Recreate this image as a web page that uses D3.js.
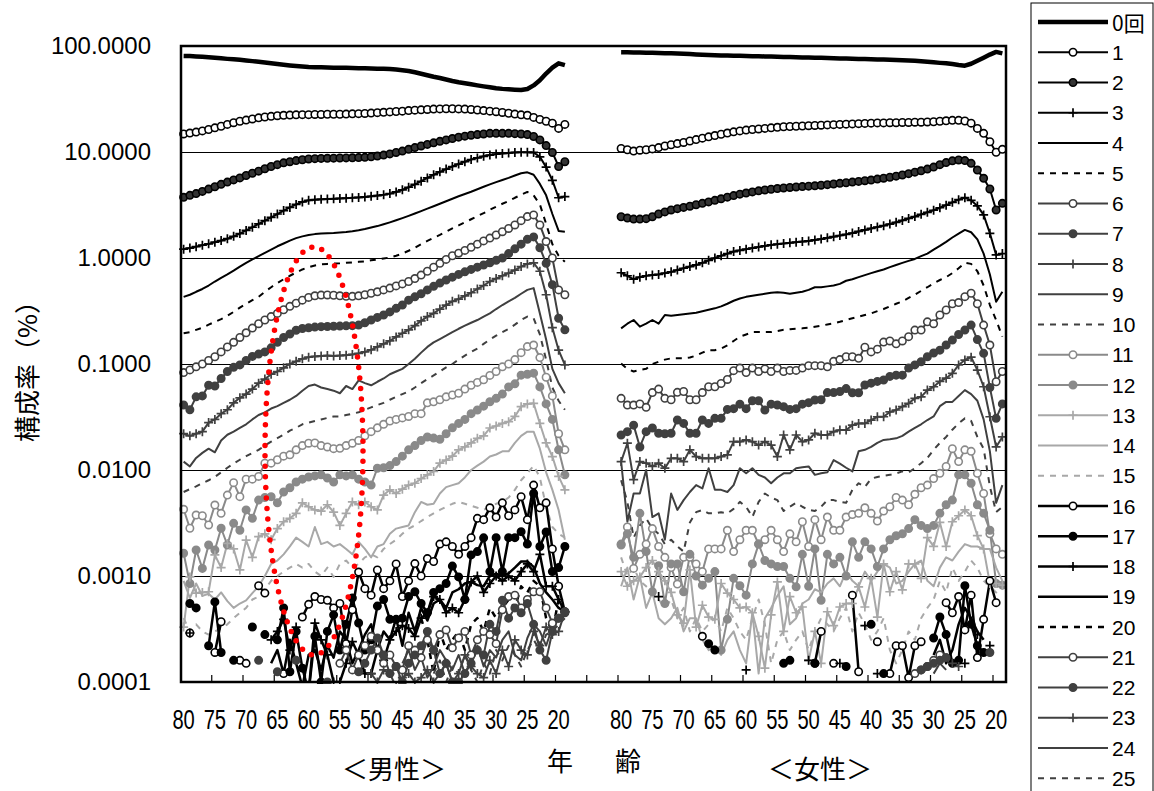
<!DOCTYPE html>
<html><head><meta charset="utf-8">
<script src="https://cdn.jsdelivr.net/npm/d3@7"></script>
<style>body{margin:0;background:#fff}svg{display:block}</style>
</head><body>
<svg id="c" width="1154" height="791"></svg>
<script>
// ---------- categories / labels ----------
const ages = d3.range(80, 18, -1);               // 80 .. 19
const xTickAges = [80,75,70,65,60,55,50,45,40,35,30,25,20];
const yTicks = [100,10,1,0.1,0.01,0.001,0.0001];
const seriesLabels = ["0回","1","2","3","4","5","6","7","8","9","10","11","12","13","14","15","16","17","18","19","20","21","22","23","24","25"];

// ---------- male (ages 80 -> 19) ----------
const M0=[80.5,80.3,79.8,79,78.2,77.3,76.5,75.6,74.8,74,73,72,71,70,68.8,67.6,66.4,65.4,64.6,64,63.4,63.1,62.9,62.7,62.5,62.4,62.2,62,61.8,61.6,61.4,61.1,60.9,60.6,60,59.1,58,56.5,54.8,53,51.3,49.9,48.3,46.8,45.5,44.5,43.5,42.5,41.6,40.8,40,39.4,39,38.7,38.4,39.3,42.5,47.5,55,62.5,68.7,66];
const M1=[14.8,15.1,15.4,15.8,16.3,16.9,17.5,18.2,18.9,19.5,20.0,20.5,21.0,21.4,21.7,22.0,22.2,22.3,22.4,22.5,22.5,22.6,22.6,22.7,22.7,22.7,22.8,22.9,23.0,23.1,23.3,23.5,23.7,23.9,24.1,24.3,24.6,24.8,25.0,25.2,25.4,25.5,25.6,25.6,25.5,25.4,25.2,24.9,24.6,24.3,24.0,23.6,23.2,22.8,22.4,22.2,21.2,20.3,19.5,18.7,16.7,18.2];
const M2=[3.74,3.9,4.05,4.25,4.47,4.7,4.95,5.2,5.45,5.7,6.0,6.3,6.6,6.95,7.3,7.6,7.9,8.1,8.3,8.45,8.6,8.65,8.7,8.72,8.75,8.78,8.8,8.82,8.85,8.9,9.0,9.15,9.35,9.6,9.9,10.2,10.6,11.0,11.4,11.8,12.2,12.6,13.0,13.4,13.8,14.1,14.4,14.6,14.8,15.0,15.0,15.0,15.0,14.9,14.8,14.6,14.0,13.0,11.5,9.9,7.3,8.1];
const M3=[1.21,1.24,1.28,1.32,1.36,1.41,1.46,1.52,1.6,1.7,1.82,1.95,2.1,2.25,2.42,2.6,2.8,3.0,3.2,3.38,3.5,3.55,3.58,3.6,3.62,3.65,3.67,3.7,3.73,3.77,3.82,3.88,3.95,4.05,4.2,4.4,4.65,4.95,5.3,5.7,6.1,6.5,6.9,7.3,7.7,8.1,8.5,8.8,9.1,9.35,9.55,9.7,9.8,9.9,9.95,9.94,9.9,9.0,7.2,5.4,3.7,3.8];
const M4=[0.43,0.45,0.48,0.51,0.55,0.6,0.65,0.7,0.76,0.83,0.9,0.97,1.04,1.12,1.2,1.29,1.37,1.46,1.54,1.6,1.65,1.68,1.7,1.71,1.72,1.74,1.76,1.79,1.83,1.88,1.94,2.0,2.08,2.17,2.27,2.38,2.5,2.63,2.77,2.92,3.08,3.25,3.43,3.62,3.82,4.02,4.22,4.45,4.7,4.95,5.2,5.45,5.7,6.0,6.3,6.43,6.1,5.0,3.9,2.6,1.8,1.77];
const M5=[0.195,0.2,0.21,0.22,0.235,0.25,0.265,0.285,0.31,0.34,0.37,0.4,0.43,0.48,0.53,0.58,0.63,0.68,0.73,0.78,0.82,0.85,0.87,0.88,0.885,0.89,0.9,0.91,0.92,0.93,0.95,0.97,0.99,1.01,1.05,1.1,1.17,1.25,1.35,1.45,1.55,1.65,1.77,1.9,2.03,2.17,2.32,2.48,2.65,2.85,3.05,3.25,3.45,3.7,3.95,4.2,3.9,3.2,2.1,1.35,1.05,0.92];
const M6=[0.083,0.088,0.094,0.1,0.108,0.117,0.13,0.145,0.16,0.178,0.197,0.218,0.24,0.26,0.28,0.3,0.325,0.35,0.375,0.4,0.425,0.44,0.447,0.448,0.445,0.44,0.435,0.435,0.44,0.45,0.465,0.48,0.5,0.52,0.545,0.57,0.6,0.64,0.69,0.75,0.82,0.89,0.97,1.05,1.11,1.18,1.26,1.35,1.45,1.54,1.65,1.77,1.9,2.05,2.25,2.46,2.55,2.05,1.43,1.0,0.5,0.45];
const M7=[0.041,0.037,0.049,0.05,0.063,0.062,0.073,0.085,0.093,0.098,0.108,0.118,0.124,0.13,0.142,0.16,0.178,0.192,0.208,0.216,0.22,0.223,0.225,0.226,0.227,0.228,0.229,0.23,0.233,0.245,0.26,0.275,0.29,0.31,0.335,0.36,0.4,0.43,0.46,0.5,0.54,0.58,0.62,0.66,0.7,0.74,0.78,0.82,0.86,0.9,0.95,1.0,1.1,1.22,1.35,1.5,1.58,1.25,0.89,0.56,0.27,0.21];
const M8=[0.022,0.021,0.022,0.023,0.028,0.03,0.034,0.037,0.043,0.048,0.052,0.058,0.066,0.072,0.08,0.085,0.092,0.1,0.106,0.112,0.116,0.118,0.119,0.12,0.119,0.12,0.121,0.123,0.126,0.13,0.136,0.145,0.155,0.165,0.18,0.195,0.21,0.23,0.255,0.28,0.3,0.33,0.36,0.39,0.41,0.44,0.47,0.51,0.55,0.6,0.64,0.68,0.72,0.77,0.83,0.88,0.9,0.75,0.45,0.22,0.135,0.098];
const M9=[0.012,0.0108,0.013,0.0145,0.0159,0.0147,0.019,0.0215,0.023,0.025,0.027,0.03,0.033,0.035,0.038,0.04,0.043,0.046,0.05,0.056,0.062,0.064,0.06,0.058,0.056,0.053,0.062,0.058,0.07,0.066,0.063,0.068,0.073,0.08,0.085,0.09,0.1,0.112,0.128,0.145,0.16,0.172,0.185,0.2,0.215,0.23,0.245,0.26,0.28,0.3,0.33,0.36,0.39,0.42,0.46,0.5,0.52,0.3,0.17,0.09,0.066,0.053];
const M10=[0.0062,0.0066,0.007,0.0075,0.008,0.0086,0.0095,0.0105,0.0115,0.0125,0.0135,0.0145,0.0155,0.017,0.0185,0.02,0.0215,0.0235,0.025,0.027,0.028,0.029,0.03,0.031,0.032,0.032,0.033,0.034,0.035,0.037,0.039,0.041,0.043,0.046,0.049,0.052,0.055,0.06,0.066,0.072,0.078,0.085,0.093,0.1,0.11,0.12,0.13,0.14,0.155,0.17,0.185,0.2,0.215,0.235,0.26,0.28,0.27,0.19,0.11,0.06,0.045,0.037];
const M11=[0.00426,0.00282,0.00376,0.0037,0.00303,0.00467,0.0039,0.0058,0.0076,0.0056,0.0082,0.0082,0.0087,0.0116,0.0116,0.0125,0.0135,0.0139,0.0155,0.017,0.0179,0.018,0.017,0.0165,0.0159,0.016,0.017,0.0179,0.019,0.021,0.023,0.025,0.027,0.029,0.03,0.031,0.032,0.034,0.034,0.043,0.044,0.046,0.049,0.051,0.053,0.058,0.063,0.067,0.071,0.078,0.085,0.094,0.1,0.11,0.128,0.146,0.151,0.115,0.075,0.05,0.022,0.0155];
const M12=[0.00164,0.00085,0.00176,0.00118,0.00196,0.00176,0.00282,0.00196,0.00314,0.0027,0.0042,0.0035,0.0052,0.0055,0.0056,0.0049,0.0062,0.0068,0.0077,0.0082,0.0086,0.0088,0.009,0.0084,0.0077,0.009,0.0088,0.009,0.0082,0.0077,0.0072,0.0104,0.0105,0.011,0.012,0.0135,0.0155,0.017,0.019,0.0205,0.02,0.0195,0.022,0.025,0.0275,0.03,0.034,0.0368,0.04,0.044,0.0474,0.052,0.0608,0.065,0.0785,0.08,0.082,0.0608,0.042,0.03,0.0155,0.009];
const M13=[0.00033,0.00098,0.00069,0.0007,0.00071,0.00158,0.0012,0.00203,0.0018,0.00114,0.00218,0.0015,0.00235,0.0025,0.0022,0.0028,0.00325,0.0035,0.0039,0.0049,0.0045,0.0042,0.0041,0.0047,0.004,0.003,0.0039,0.005,0.0047,0.005,0.0045,0.0042,0.0058,0.0065,0.006,0.0066,0.0072,0.0075,0.0083,0.009,0.0097,0.0116,0.0124,0.0135,0.0155,0.0165,0.018,0.0199,0.021,0.0249,0.026,0.0275,0.0286,0.032,0.0396,0.042,0.0426,0.0275,0.018,0.0134,0.0087,0.0065];
const M14=[0.0009,0.00062,0.00085,0.00065,0.00068,0.0006,0.0007,0.00058,0.0005,0.00055,0.00059,0.00069,0.0008,0.001,0.0013,0.0014,0.0016,0.0019,0.0023,0.0021,0.0019,0.0029,0.002,0.0021,0.0019,0.002,0.0018,0.0016,0.0021,0.0018,0.0015,0.0019,0.002,0.0025,0.0028,0.0029,0.003,0.004,0.005,0.0047,0.0048,0.006,0.0069,0.0072,0.0075,0.0085,0.01,0.011,0.012,0.0134,0.014,0.015,0.015,0.018,0.021,0.023,0.023,0.0159,0.0095,0.0065,0.0042,0.0022];
const M15=[0.0004,0.0003,0.00035,0.0003,0.00028,0.0003,0.00032,0.00035,0.0004,0.00045,0.0005,0.0006,0.00064,0.00075,0.0009,0.001,0.0011,0.0012,0.0013,0.0012,0.0013,0.0011,0.001,0.0012,0.00098,0.0013,0.0014,0.0012,0.0013,0.0015,0.0016,0.0015,0.0018,0.002,0.0022,0.0025,0.0028,0.003,0.0033,0.0036,0.0039,0.0042,0.0045,0.0048,0.005,0.0048,0.0046,0.0044,0.0042,0.0045,0.0048,0.005,0.0055,0.0065,0.008,0.0093,0.011,0.0085,0.0045,0.0029,0.0025,0.0023];
// sparse series: [age, value]
const M16=[[79,0.00029],[75,0.00019],[74,0.00037],[71,0.00016],[70,0.00015],[68,0.00081],[67,0.00069],[64,0.00012],[61,0.00041],[60,0.00054],[59,0.00064],[58,0.0006],[57,0.00059],[56,0.0005],[55,0.00055],[54,0.00023],[53,0.00048],[52,0.00109],[51,0.00076],[50,0.00066],[49,0.00114],[48,0.00076],[47,0.0009],[46,0.0013],[45,0.00064],[44,0.0009],[43,0.00131],[42,0.001],[41,0.00146],[40,0.00137],[39,0.002],[38,0.0021],[37,0.0019],[36,0.0016],[35,0.0019],[34,0.0023],[33,0.0035],[32,0.0034],[31,0.0044],[30,0.0036],[29,0.0049],[28,0.0037],[27,0.0042],[26,0.0056],[25,0.0034],[24,0.0072],[23,0.0044],[22,0.0049],[21,0.0018],[20,0.0008],[19,0.00046]];
const M17=[[79,0.00055],[78,0.0005],[76,0.00022],[75,0.00057],[74,0.00019],[72,0.00016],[69,0.00033],[67,0.00028],[65,0.00025],[64,0.0005],[63,0.000125],[62,0.0003],[61,0.000135],[60,0.00008],[59,0.00027],[58,0.0001],[57,0.0003],[56,0.00043],[55,0.0002],[54,0.00035],[53,0.00062],[52,0.00036],[51,0.0002],[50,0.00025],[49,0.00052],[48,0.0006],[47,0.00039],[46,0.00039],[45,0.0004],[44,0.00064],[43,0.00071],[42,0.00055],[41,0.00045],[40,0.0007],[39,0.00076],[38,0.00085],[37,0.00124],[36,0.00098],[35,0.0006],[34,0.00158],[33,0.0017],[32,0.00229],[31,0.0011],[30,0.0023],[29,0.0011],[28,0.0023],[27,0.0023],[26,0.00262],[25,0.002],[24,0.006],[23,0.0019],[22,0.0026],[21,0.0011],[20,0.0012],[19,0.0019]];
const M18=[[79,0.00029],[66,0.00025],[65,0.0003],[64,0.00039],[63,0.0002],[62,0.00033],[60,0.00008],[59,0.00036],[58,0.00025],[57,0.00018],[56,0.0001],[55,0.0001],[54,0.00015],[53,0.00024],[52,0.00018],[51,0.00012],[50,0.00012],[49,0.0002],[48,0.00016],[47,0.00025],[46,0.0003],[45,0.00034],[44,0.00032],[43,0.00027],[42,0.0004],[41,0.00045],[40,0.00064],[39,0.0006],[38,0.00045],[37,0.0005],[36,0.00045],[35,0.0006],[34,0.00088],[33,0.001],[32,0.0007],[31,0.00085],[30,0.001],[29,0.0009],[28,0.001],[27,0.0009],[26,0.0011],[25,0.0013],[24,0.0011],[23,0.0016],[22,0.0008],[21,0.0008],[20,0.0006],[19,0.00046]];
const M19=[[66,0.00015],[65,0.0002],[64,0.00012],[63,0.00025],[62,0.00015],[61,0.00009],[60,0.00018],[59,0.0002],[58,0.00013],[57,0.00022],[56,0.00017],[55,0.0003],[54,0.00025],[53,0.00015],[52,0.0002],[51,0.00028],[50,0.00035],[49,0.0002],[48,0.0003],[47,0.00025],[46,0.0004],[45,0.00022],[44,0.00045],[43,0.0003],[42,0.0005],[41,0.00038],[40,0.00055],[39,0.0006],[38,0.0005],[37,0.0007],[36,0.00075],[35,0.00085],[34,0.00088],[33,0.00082],[32,0.0008],[31,0.001],[30,0.00105],[29,0.001],[28,0.00106],[27,0.0012],[26,0.00137],[25,0.00137],[24,0.00122],[23,0.00085],[22,0.0007],[21,0.0006],[20,0.0005],[19,0.00046]];
const M20=[[42,0.0004],[41,0.00025],[40,0.00012],[39,0.0003],[38,0.0002],[37,0.00025],[36,0.0003],[35,0.0002],[34,0.00035],[33,0.0004],[32,0.0003],[31,0.0005],[30,0.0004],[29,0.0005],[28,0.0006],[27,0.0005],[26,0.0008],[25,0.0007],[24,0.0009],[23,0.0008],[22,0.0004],[21,0.0003],[20,0.0006],[19,0.00045]];
const M21=[[55,0.00015],[54,0.0002],[53,0.00013],[52,0.00018],[51,0.00022],[50,0.00027],[49,0.0002],[48,0.00015],[47,0.00018],[46,0.00014],[45,0.00013],[44,0.00022],[43,0.0002],[42,0.00017],[41,0.00025],[40,0.0002],[39,0.00028],[38,0.00031],[37,0.00021],[36,0.00026],[35,0.0003],[34,0.00018],[33,0.00025],[32,0.0003],[31,0.00028],[30,0.00023],[29,0.00048],[28,0.00064],[27,0.00066],[26,0.0005],[25,0.0006],[24,0.00071],[23,0.00071],[22,0.0005],[21,0.00036],[20,0.0004],[19,0.00046]];
const M22=[[68,0.00016],[65,0.000125],[62,0.00016],[57,0.0001],[52,0.000125],[51,0.00015],[50,0.0002],[49,0.00026],[48,0.00018],[47,0.00012],[46,0.00014],[45,0.0001],[44,0.00015],[43,0.00018],[42,0.00022],[41,0.0003],[40,0.0002],[39,0.00012],[38,0.00015],[37,0.0001],[36,0.0001],[35,0.00012],[34,0.00015],[33,0.0002],[32,0.00018],[31,0.00035],[30,0.0003],[29,0.00059],[28,0.0004],[27,0.0005],[26,0.00045],[25,0.00055],[24,0.00035],[23,0.0002],[22,0.00016],[21,0.0003],[20,0.0004],[19,0.00045]];
const M23=[[50,0.00012],[49,0.0001],[48,0.00013],[47,0.00012],[46,0.00009],[45,0.00011],[44,0.00012],[43,0.0001],[42,0.00011],[41,0.00013],[40,0.0001],[39,0.00012],[38,0.00015],[37,0.0001],[36,0.00012],[35,0.00018],[34,0.00014],[33,0.00012],[32,0.00011],[31,0.00016],[30,0.00012],[29,0.0002],[28,0.00014],[27,0.00025],[26,0.0002],[25,0.00018],[24,0.0003],[23,0.00022],[22,0.00033],[21,0.00028],[20,0.0003],[19,0.00046]];
const M24=[[45,0.00015],[44,0.0002],[43,0.00013],[42,0.00017],[41,0.00011],[40,0.00014],[39,0.0002],[38,0.00016],[37,0.00013],[36,0.00018],[35,0.00012],[34,0.00016],[33,0.00022],[32,0.00014],[31,0.0002],[30,0.00017],[29,0.00025],[28,0.0003],[27,0.00018],[26,0.00016],[25,0.00026],[24,0.00035],[23,0.0003],[22,0.00022],[21,0.00033],[20,0.0004],[19,0.00045]];
const M25=[[40,0.00012],[39,0.00016],[38,0.0001],[37,0.00014],[36,0.00012],[35,0.00018],[34,0.00013],[33,0.0001],[32,0.00015],[31,0.00012],[30,0.0002],[29,0.00016],[28,0.00022],[27,0.00018],[26,0.00014],[25,0.0002],[24,0.00025],[23,0.0002],[22,0.00028],[21,0.0003],[20,0.00035],[19,0.0004]];

// ---------- female (ages 80 -> 19) ----------
const F0=[87.3,87.2,87,86.8,86.5,86.2,85.9,85.6,85.3,85,84.6,84,83.3,82.7,82.2,81.8,81.5,81.2,81,80.7,80.5,80.2,80,79.7,79.4,79.1,78.8,78.6,78.3,78.1,77.8,77.6,77.3,77,76.7,76.4,76.1,75.8,75.5,75.2,75,74.7,74.4,74.1,73.8,73.4,73,72.4,71.7,71,70.1,69.3,68.7,67.5,66.2,65.2,68,72.5,77.5,83,88,85.3];
const F1=[10.8,10.5,10.2,10.4,10.5,10.7,11.0,11.4,11.7,12.0,12.3,12.7,13.1,13.5,13.9,14.3,14.7,15.1,15.5,15.8,16.1,16.3,16.5,16.7,16.9,17.1,17.3,17.4,17.5,17.6,17.7,17.8,17.9,18.0,18.1,18.2,18.3,18.4,18.5,18.6,18.7,18.8,18.8,18.9,18.9,19.0,19.0,19.1,19.1,19.2,19.3,19.5,19.7,19.9,19.9,19.6,18.7,16.7,15.0,12.5,9.95,10.6];
const F2=[2.45,2.38,2.33,2.33,2.35,2.45,2.6,2.72,2.84,2.92,3.0,3.08,3.18,3.28,3.38,3.5,3.62,3.75,3.88,4.0,4.1,4.2,4.3,4.38,4.45,4.52,4.58,4.63,4.68,4.72,4.76,4.8,4.86,4.92,4.99,5.06,5.13,5.2,5.28,5.36,5.44,5.55,5.66,5.78,5.92,6.07,6.25,6.45,6.65,6.9,7.2,7.6,7.95,8.25,8.41,8.3,7.82,6.76,5.65,4.48,2.84,3.28];
const F3=[0.726,0.68,0.63,0.66,0.68,0.69,0.7,0.72,0.74,0.77,0.8,0.83,0.86,0.9,0.95,1.0,1.05,1.1,1.15,1.18,1.21,1.24,1.27,1.3,1.33,1.35,1.37,1.39,1.41,1.43,1.45,1.48,1.51,1.55,1.59,1.63,1.67,1.72,1.78,1.84,1.9,1.96,2.02,2.09,2.17,2.26,2.36,2.46,2.58,2.7,2.82,2.98,3.15,3.35,3.55,3.71,3.5,3.1,2.55,1.71,1.07,1.1];
const F4=[0.217,0.24,0.26,0.225,0.24,0.26,0.24,0.29,0.285,0.29,0.295,0.3,0.305,0.315,0.325,0.335,0.35,0.37,0.395,0.415,0.43,0.44,0.45,0.46,0.47,0.475,0.47,0.46,0.47,0.48,0.5,0.53,0.53,0.54,0.55,0.57,0.61,0.63,0.66,0.69,0.72,0.75,0.78,0.82,0.86,0.9,0.94,0.98,1.04,1.1,1.2,1.3,1.42,1.56,1.7,1.84,1.75,1.5,1.1,0.7,0.387,0.48];
const F5=[0.101,0.09,0.085,0.088,0.09,0.1,0.105,0.11,0.113,0.113,0.113,0.115,0.12,0.128,0.135,0.135,0.14,0.15,0.165,0.181,0.19,0.2,0.2,0.2,0.2,0.205,0.21,0.213,0.215,0.217,0.22,0.225,0.23,0.236,0.242,0.25,0.26,0.27,0.28,0.29,0.3,0.315,0.33,0.35,0.37,0.39,0.42,0.45,0.49,0.53,0.577,0.62,0.66,0.72,0.8,0.9,0.88,0.75,0.55,0.36,0.26,0.181];
const F6=[0.0474,0.041,0.041,0.042,0.039,0.0537,0.058,0.0474,0.046,0.054,0.055,0.046,0.046,0.0537,0.061,0.061,0.0655,0.0715,0.0865,0.0915,0.083,0.0915,0.085,0.09,0.085,0.0915,0.085,0.087,0.087,0.0915,0.0965,0.0965,0.0965,0.094,0.106,0.11,0.117,0.117,0.113,0.144,0.13,0.138,0.161,0.165,0.155,0.165,0.181,0.209,0.209,0.25,0.24,0.29,0.323,0.37,0.38,0.432,0.465,0.37,0.233,0.151,0.068,0.085];
const F7=[0.0214,0.023,0.0265,0.0165,0.023,0.0249,0.0222,0.022,0.0222,0.0296,0.0275,0.0222,0.0222,0.0296,0.0275,0.0307,0.0307,0.0373,0.0379,0.0418,0.0379,0.045,0.045,0.0368,0.0418,0.041,0.0396,0.0373,0.0379,0.0418,0.0432,0.0458,0.046,0.0537,0.0537,0.055,0.0586,0.0535,0.0535,0.0633,0.066,0.0685,0.0706,0.0764,0.0785,0.0785,0.0915,0.098,0.105,0.117,0.127,0.135,0.151,0.168,0.19,0.209,0.233,0.17,0.126,0.06,0.0307,0.042];
const F8=[0.012,0.0179,0.0081,0.012,0.0116,0.0108,0.0116,0.0104,0.0129,0.0129,0.012,0.0155,0.0134,0.0129,0.0129,0.0129,0.0134,0.0139,0.0185,0.0185,0.0192,0.0185,0.0172,0.0185,0.0172,0.0134,0.0214,0.0155,0.0214,0.0185,0.0192,0.0222,0.0214,0.0214,0.023,0.0238,0.0238,0.0265,0.0275,0.0275,0.0296,0.0318,0.0318,0.0353,0.0368,0.0396,0.0426,0.0474,0.049,0.0567,0.061,0.0685,0.0735,0.0817,0.098,0.109,0.116,0.0877,0.061,0.0318,0.0165,0.0205];
const F9=[0.012,0.00325,0.006,0.006,0.01,0.0036,0.0039,0.0022,0.006,0.0042,0.0052,0.0062,0.0072,0.0067,0.0104,0.0065,0.0065,0.0062,0.0072,0.0104,0.0093,0.0104,0.009,0.0085,0.0075,0.0085,0.0093,0.0093,0.0104,0.0106,0.0108,0.009,0.0093,0.0095,0.0124,0.0115,0.0105,0.0097,0.015,0.0155,0.0165,0.018,0.0192,0.0195,0.0199,0.021,0.023,0.025,0.027,0.0296,0.032,0.04,0.0439,0.0439,0.05,0.0567,0.052,0.045,0.03,0.015,0.0049,0.0072];
const F10=[0.008,0.005,0.0023,0.003,0.0035,0.0028,0.0025,0.002,0.0022,0.0019,0.0017,0.0032,0.004,0.0042,0.0039,0.0039,0.004,0.0039,0.0043,0.005,0.0045,0.0036,0.005,0.006,0.0055,0.0052,0.0041,0.0045,0.0049,0.0045,0.0042,0.0041,0.0045,0.0052,0.0052,0.005,0.0049,0.0065,0.0075,0.0069,0.0083,0.0086,0.0088,0.009,0.0093,0.0097,0.0095,0.0104,0.0116,0.013,0.0155,0.018,0.0205,0.024,0.0275,0.0307,0.029,0.0205,0.0159,0.007,0.004,0.0045];
const F11=[0.002,0.0029,0.00118,0.0016,0.002,0.0028,0.0019,0.0015,0.0012,0.00084,0.0015,0.0015,0.0013,0.0011,0.0018,0.0018,0.0018,0.0027,0.0017,0.0022,0.0027,0.0027,0.002,0.0022,0.0027,0.0022,0.0017,0.0025,0.0021,0.00325,0.0019,0.0034,0.0022,0.0036,0.0027,0.0027,0.0036,0.0038,0.0039,0.0044,0.0039,0.0033,0.0041,0.0045,0.0055,0.0052,0.0047,0.0059,0.0068,0.0072,0.0083,0.0093,0.0108,0.0159,0.012,0.0155,0.015,0.0093,0.006,0.0025,0.0018,0.0016];
const F12=[0.00196,0.0025,0.0015,0.0039,0.0017,0.00071,0.00125,0.00055,0.0013,0.0013,0.00071,0.0016,0.001,0.00082,0.00095,0.0011,0.0002,0.00039,0.00095,0.00081,0.00066,0.0013,0.002,0.0014,0.0013,0.00123,0.00123,0.00095,0.00079,0.0016,0.0008,0.0018,0.00059,0.0016,0.0013,0.0015,0.001,0.0021,0.0015,0.0021,0.0018,0.00123,0.0018,0.0022,0.0024,0.0025,0.0028,0.0034,0.003,0.0028,0.003,0.0039,0.0047,0.0052,0.009,0.009,0.0075,0.0047,0.0039,0.0027,0.00085,0.00082];
const F13=[0.0011,0.0008,0.0009,0.00098,0.0012,0.0014,0.0011,0.0009,0.0007,0.00043,0.00036,0.00114,0.00033,0.00053,0.00041,0.00039,0.00085,0.00069,0.0006,0.0005,0.00051,0.00045,0.00027,0.000135,0.00043,0.00088,0.0003,0.00064,0.00045,0.00051,0.00016,0.0003,0.00015,0.00046,0.00034,0.00051,0.00055,0.00055,0.00079,0.00051,0.00095,0.00041,0.0013,0.00071,0.0011,0.00074,0.0013,0.0013,0.00095,0.0023,0.0019,0.0032,0.0019,0.00325,0.0037,0.0042,0.0037,0.0024,0.0018,0.00085,0.00085,0.00082];
const F14=[0.0008,0.0012,0.0006,0.001,0.0005,0.0007,0.0004,0.00035,0.0004,0.0005,0.0003,0.0004,0.0004,0.00025,0.0002,0.00022,0.00018,0.00025,0.0003,0.0002,0.00015,0.00045,0.00012,0.0004,0.0005,0.00065,0.0008,0.00035,0.0004,0.00055,0.0006,0.00075,0.0007,0.00085,0.00095,0.0008,0.0011,0.0009,0.0008,0.0011,0.0009,0.0011,0.0013,0.0012,0.00085,0.0009,0.0011,0.0013,0.0014,0.0009,0.0008,0.0012,0.0015,0.0014,0.0017,0.002,0.0019,0.0019,0.0018,0.0018,0.0012,0.0009];
const F15=[0.0015,0.001,0.0012,0.0009,0.0008,0.0007,0.0006,0.0005,0.0006,0.0004,0.0005,0.0003,0.0004,0.0003,0.00035,0.0004,0.0003,0.0005,0.0004,0.0003,0.00025,0.0004,0.0006,0.00035,0.00015,0.00025,0.0003,0.0002,0.00025,0.0003,0.0002,0.0003,0.0004,0.00035,0.0003,0.0004,0.0005,0.0003,0.00045,0.00035,0.00025,0.0003,0.0004,0.0002,0.00015,0.0002,0.0003,0.00025,0.0004,0.0005,0.0006,0.0009,0.0007,0.0012,0.0009,0.0011,0.0014,0.0012,0.0009,0.0008,0.0007,0.0008];
const F16=[[67,0.00027],[49,0.00015],[48,0.0003],[46,0.00015],[43,0.00066],[42,0.000125],[39,0.00024],[37,0.00012],[36,0.00022],[35,0.00022],[34,0.00011],[33,0.00022],[32,0.00024],[28,0.00056],[27,0.00045],[26,0.00064],[25,0.00031],[24,0.00066],[23,0.00017],[22,0.00039],[21,0.0009],[20,0.00056]];
const F17=[[66,0.00023],[65,0.0002],[54,0.00015],[53,0.00016],[49,0.00015],[44,0.00014],[40,0.00035],[38,0.00012],[30,0.00026],[29,0.00041],[28,0.00028],[27,0.00015],[26,0.00016],[25,0.00081],[24,0.00035],[23,0.00022],[22,0.00019]];
const F18=[[74,0.00064],[60,0.00013],[50,0.00016],[45,0.00015],[41,0.00034],[39,0.00012],[25,0.00015],[23,0.00028],[21,0.00022]];
const F19=[[30,0.00018],[29,0.00025],[28,0.00015],[27,0.0002],[26,0.00035],[25,0.0005],[24,0.0004],[23,0.0003],[22,0.00025]];
const F20=[];
const F21=[[33,0.00012],[32,0.00013],[31,0.00014],[30,0.00016],[29,0.00018]];
const F22=[[32,0.00013],[31,0.00014],[30,0.00015],[29,0.00016],[28,0.00017],[21,0.00019]];
const F23=[[27,0.00015],[26,0.00014]];
const F24=[[30,0.00012],[29,0.00015],[28,0.00013]];
const F25=[];

// ---------- styles ----------
const K='#000', D='#404040', G='#8a8a8a', L='#a8a8a8';
const styles=[
 {c:K,w:4.5},{c:K,w:2,m:'o',f:'#fff'},{c:K,w:2,m:'o',f:'#333'},{c:K,w:2,m:'+'},{c:K,w:2},{c:K,w:2,d:'6,6'},
 {c:D,w:2,m:'o',f:'#fff'},{c:D,w:2,m:'o',f:D},{c:D,w:2,m:'+'},{c:D,w:2},{c:D,w:2,d:'6,6'},
 {c:G,w:2,m:'o',f:'#fff'},{c:G,w:2,m:'o',f:G},{c:L,w:2,m:'+'},{c:L,w:2},{c:L,w:2,d:'6,6'},
 {c:K,w:2.5,m:'o',f:'#fff'},{c:K,w:2.5,m:'o',f:K},{c:K,w:2.5,m:'+'},{c:K,w:2.5},{c:K,w:2.5,d:'6,6'},
 {c:D,w:2,m:'o',f:'#fff'},{c:D,w:2,m:'o',f:D},{c:D,w:2,m:'+'},{c:D,w:2},{c:D,w:2,d:'6,6'}
];

function expand(a){
  if (a.length && Array.isArray(a[0])) { const out = ages.map(()=>null); a.forEach(([ag,v])=>{ out[ages.indexOf(ag)] = v; }); return out; }
  if (!a.length) return ages.map(()=>null);
  return a;
}
const male=[M0,M1,M2,M3,M4,M5,M6,M7,M8,M9,M10,M11,M12,M13,M14,M15,M16,M17,M18,M19,M20,M21,M22,M23,M24,M25].map(expand);
const female=[F0,F1,F2,F3,F4,F5,F6,F7,F8,F9,F10,F11,F12,F13,F14,F15,F16,F17,F18,F19,F20,F21,F22,F23,F24,F25].map(expand);

// ---------- scales ----------
const keys=[...ages.map(a=>'m'+a), ...d3.range(8).map(i=>'g'+i), ...ages.map(a=>'f'+a)];
const x=d3.scaleBand().domain(keys).range([180.5,1005.5]);
const cx=k=>x(k)+x.bandwidth()/2;
const y=d3.scaleLog().domain([0.0001,100]).range([682,46]);
const PL=181, PR=1006, PT=46, PB=682;

const svg=d3.select('#c');
const NUM='"Liberation Sans", Arial, sans-serif';
const CJK='"Noto Sans CJK JP", "Noto Sans CJK SC", sans-serif';

svg.append('defs').call(df=>{
  df.append('clipPath').attr('id','clipL').append('rect').attr('x',PL).attr('y',PT).attr('width',PR-PL).attr('height',PB-PT);
  df.append('clipPath').attr('id','clipM').append('rect').attr('x',PL-6).attr('y',PT-6).attr('width',PR-PL+12).attr('height',PB-PT+8);
});

// gridlines (crisp)
svg.append('g').selectAll('line').data(yTicks.slice(1,-1)).join('line')
  .attr('x1',PL).attr('x2',PR).attr('y1',d=>Math.round(y(d))+0.5).attr('y2',d=>Math.round(y(d))+0.5)
  .attr('stroke','#000').attr('stroke-width',1).attr('shape-rendering','crispEdges');

// y axis labels
const ya=svg.append('g').attr('transform',`translate(${PL},0)`)
  .call(d3.axisLeft(y).tickValues(yTicks).tickFormat(d3.format('.4f')).tickSize(0).tickPadding(30));
ya.select('.domain').remove();
ya.selectAll('text').attr('font-family',NUM).attr('font-size',24).attr('fill','#000');

// x axis labels (condensed)
const labelKeys=[...xTickAges.map(a=>'m'+a), ...xTickAges.map(a=>'f'+a)];
const xa=svg.append('g').attr('transform',`translate(0,${PB})`)
  .call(d3.axisBottom(x).tickValues(labelKeys).tickFormat(k=>k.slice(1)).tickSize(0).tickPadding(27));
xa.select('.domain').remove();
xa.selectAll('text').attr('font-family',NUM).attr('font-size',28).attr('fill','#000').attr('transform','scale(0.72,1)');

// inner tick marks on the category axis
svg.append('g').selectAll('line').data(d3.range(5,132,5)).join('line')
  .attr('x1',i=>x(keys[i])).attr('x2',i=>x(keys[i])).attr('y1',PB).attr('y2',PB-7)
  .attr('stroke','#000').attr('stroke-width',1.2);

// series
const lineG=svg.append('g').attr('clip-path','url(#clipL)');
const markG=svg.append('g').attr('clip-path','url(#clipM)');
function drawMarker(g, st, px, py){
  if(st.m==='o'){
    g.append('circle').attr('cx',px).attr('cy',py).attr('r',3.7).attr('fill',st.f).attr('stroke',st.c).attr('stroke-width',1.6);
  } else if(st.m==='+'){
    g.append('path').attr('d',`M${px-4.5},${py}H${px+4.5}M${px},${py-4.5}V${py+4.5}`).attr('stroke',st.c).attr('stroke-width',1.7).attr('fill','none');
  }
}
for(let s=0;s<26;s++){
  const st=styles[s];
  [['m',male[s]],['f',female[s]]].forEach(([p,arr])=>{
    const pts=arr.map((v,i)=>({k:p+ages[i],v}));
    const ln=d3.line().defined(d=>d.v!=null&&d.v>0).x(d=>cx(d.k)).y(d=>y(d.v));
    lineG.append('path').attr('d',ln(pts)).attr('fill','none').attr('stroke',st.c)
      .attr('stroke-width',st.w).attr('stroke-dasharray',st.d||null).attr('stroke-linejoin','round');
    if(st.m){
      const mg=markG.append('g');
      pts.filter(d=>d.v!=null&&d.v>0).forEach(d=>drawMarker(mg,st,cx(d.k),y(d.v)));
    }
  });
}

// frame
svg.append('rect').attr('x',PL).attr('y',PT).attr('width',PR-PL).attr('height',PB-PT)
  .attr('fill','none').attr('stroke','#000').attr('stroke-width',2.5);

// titles
svg.append('text').attr('transform','translate(25,365) rotate(-90)').attr('text-anchor','middle')
  .attr('dominant-baseline','central').attr('font-family',CJK).attr('font-size',26).text('構成率（%）');
svg.append('text').attr('x',394).attr('y',767).attr('text-anchor','middle').attr('dominant-baseline','central')
  .attr('font-family',CJK).attr('font-size',26).text('＜男性＞');
svg.append('text').attr('x',820).attr('y',767).attr('text-anchor','middle').attr('dominant-baseline','central')
  .attr('font-family',CJK).attr('font-size',26).text('＜女性＞');
svg.append('text').attr('x',547).attr('y',759).attr('dominant-baseline','central')
  .attr('font-family',CJK).attr('font-size',26).attr('letter-spacing','8px').text('年　齢');

// legend
const lg=svg.append('g');
lg.append('rect').attr('x',1031).attr('y',3).attr('width',122).attr('height',800).attr('fill','#fff').attr('stroke','#000').attr('stroke-width',1);
seriesLabels.forEach((lab,i)=>{
  const st=styles[i], yy=22+30.25*i;
  lg.append('line').attr('x1',1038).attr('x2',1108).attr('y1',yy).attr('y2',yy).attr('stroke',st.c)
    .attr('stroke-width',st.w).attr('stroke-dasharray',st.d||null);
  drawMarker(lg,st,1073,yy);
  lg.append('text').attr('x',1112).attr('y',yy).attr('dominant-baseline','central')
    .attr('font-family',i===0?CJK:NUM).attr('font-size',21).text(lab);
});

// annotation: red dotted ellipse
svg.append('ellipse').attr('cx',314).attr('cy',451).attr('rx',49).attr('ry',204)
  .attr('fill','none').attr('stroke','#ff0000').attr('stroke-width',5.5)
  .attr('stroke-linecap','round').attr('stroke-dasharray','0 10.5');
</script>
</body></html>
